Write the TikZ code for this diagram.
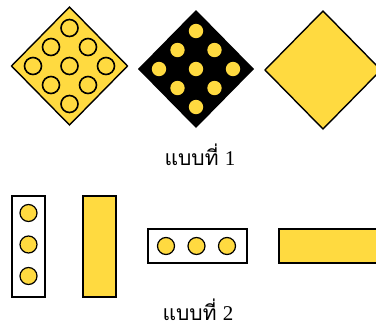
\documentclass[tikz,border=0pt]{standalone}
\usepackage{fontspec}
\newfontfamily\thaifont[Script=Thai]{Loma}
\newfontfamily\digitfont{Liberation Serif}
\definecolor{signyellow}{RGB}{255,218,64}

\begin{document}
\begin{tikzpicture}[x=1pt,y=-1pt,line width=1.4pt,
  caption/.style={inner sep=0pt,font=\fontsize{21}{21}\selectfont}]
\useasboundingbox (0,0) rectangle (376,325);

% type 1, yellow diamond with ringed dots
\begin{scope}[shift={(69.5,66)}]
  \draw[fill=signyellow] (0,-59) -- (58,0) -- (0,59) -- (-58,0) -- cycle;
  \foreach \dx/\dy in {0/-38, -18.5/-19, 18.5/-19, -36.5/0, 0/0, 36.5/0, -18.5/19, 18.5/19, 0/38}
    \draw[line width=1.6pt] (\dx,\dy) circle (8.5);
\end{scope}

% type 1, black diamond with yellow dots
\begin{scope}[shift={(196,69)}]
  \fill (0,-59) -- (58,0) -- (0,59) -- (-58,0) -- cycle;
  \foreach \dx/\dy in {0/-38, -18.5/-19, 18.5/-19, -37/0, 0/0, 37/0, -18.5/19, 18.5/19, 0/38}
    \fill[signyellow] (\dx,\dy) circle (7.2);
\end{scope}

% type 1, plain yellow diamond
\begin{scope}[shift={(323,70)}]
  \draw[fill=signyellow] (0,-59) -- (58,0) -- (0,59) -- (-58,0) -- cycle;
\end{scope}

\node[caption] (type1) at (200,155) {{\thaifont แบบที่} {\digitfont 1}};

% type 2, upright boards
\begin{scope}[line width=1.2pt]
  \draw[fill=white] (12,196) rectangle (45,297);
  \foreach \y in {213,244.5,276}
    \draw[fill=signyellow] (28.5,\y) circle (8.5);
  \draw[fill=signyellow] (83,196) rectangle (116,297);

% type 2, flat boards
  \draw[fill=white] (148,229) rectangle (247,263);
  \foreach \x in {166,196.5,227}
    \draw[fill=signyellow] (\x,246) circle (8.5);
  \draw[fill=signyellow] (279,229) rectangle (390,263);
\end{scope}

\node[caption] (type2) at (198,310) {{\thaifont แบบที่} {\digitfont 2}};

\end{tikzpicture}
\end{document}
